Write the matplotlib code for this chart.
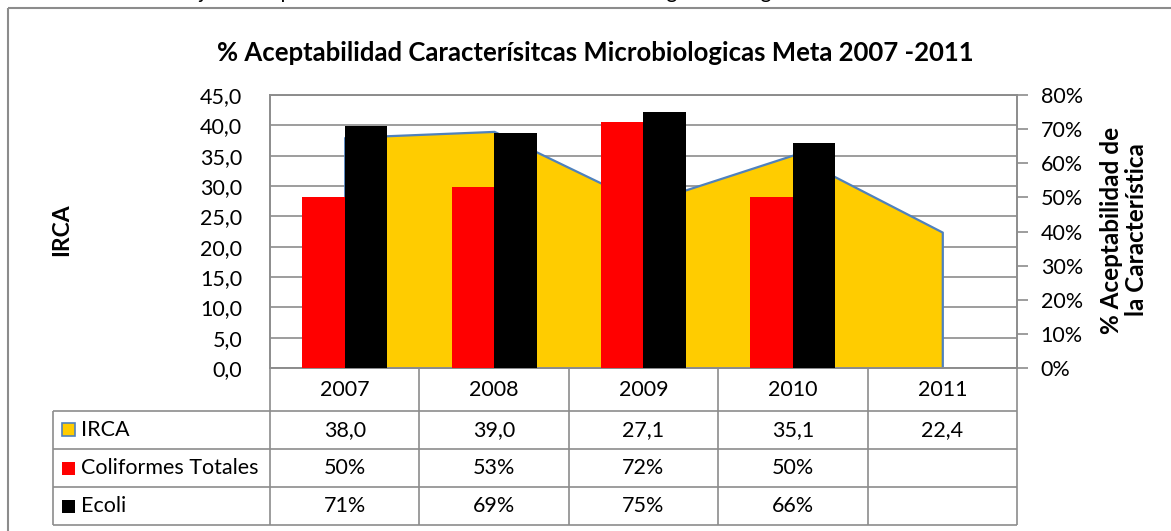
import matplotlib
matplotlib.use("Agg")
import matplotlib.pyplot as plt
from matplotlib.patches import Rectangle
import numpy as np

# ---- data -------------------------------------------------------------
years = ["2007", "2008", "2009", "2010", "2011"]
irca = [38.0, 39.0, 27.1, 35.1, 22.4]
coliformes = [0.50, 0.53, 0.72, 0.50, np.nan]
ecoli = [0.71, 0.69, 0.75, 0.66, np.nan]
irca_ticks = [0, 5, 10, 15, 20, 25, 30, 35, 40, 45]
pct_ticks = [0.0, 0.1, 0.2, 0.3, 0.4, 0.5, 0.6, 0.7, 0.8]

series_names = ["IRCA", "Coliformes Totales", "Ecoli"]
title = "% Aceptabilidad Caracterísitcas Microbiologicas Meta 2007 -2011"
caption = ("Gráfico 16. Porcentaje de aceptabilidad de las características "
           "microbiológicas del agua suministrada en el Meta 2007 - 2011")

# ---- style ------------------------------------------------------------
YELLOW = "#FFCC00"
RED = "#FF0000"
BLACK = "#000000"
BLUE = "#4F81BD"
GRID = "#8C8C8C"
FS = 15.5

plt.rcParams["font.family"] = ["Lato", "DejaVu Sans"]

W, H = 1171, 531
fig = plt.figure(figsize=(W / 100, H / 100), dpi=100)

# plot area in pixel coordinates
L, R, T, B = 270, 1017, 95, 368
ax = fig.add_axes([L / W, 1 - B / H, (R - L) / W, (B - T) / H])
ax2 = ax.twinx()

x = np.arange(len(years))
ax.set_xlim(-0.5, len(years) - 0.5)
ax.set_ylim(0, 45)
ax2.set_ylim(0, 0.8)

# IRCA area (primary axis)
ax.fill_between(x, irca, 0, facecolor=YELLOW, edgecolor=BLUE, linewidth=1.6, zorder=2)
ax.set_axisbelow(True)
ax.yaxis.grid(True, color=GRID, linewidth=1.2)
ax.set_yticks(irca_ticks)
ax.set_yticklabels([f"{v:.1f}".replace(".", ",") for v in irca_ticks], fontsize=FS)
ax.tick_params(axis="y", length=0, pad=20)
ax.set_xticks([])

# acceptability bars (secondary axis)
bw = 0.285
col = np.array(coliformes, dtype=float)
eco = np.array(ecoli, dtype=float)
m1 = ~np.isnan(col)
m2 = ~np.isnan(eco)
ax2.bar(x[m1] - bw / 2, col[m1], width=bw, color=RED, zorder=3)
ax2.bar(x[m2] + bw / 2, eco[m2], width=bw, color=BLACK, zorder=3)
ax2.set_yticks(pct_ticks)
ax2.set_yticklabels([f"{round(v * 100):d}%" for v in pct_ticks], fontsize=FS)
ax2.tick_params(axis="y", length=8, width=1.2, color=GRID, direction="out", pad=9)

for a in (ax, ax2):
    for s in a.spines.values():
        s.set_color(GRID)
        s.set_linewidth(1.2)

# titles and axis labels
fig.text(595 / W, 1 - 53 / H, title, fontsize=18.5, fontweight="bold",
         ha="center", va="center")
fig.text(62 / W, 1 - 230 / H, "IRCA", fontsize=16.5, fontweight="bold",
         rotation=90, ha="center", va="center")
fig.text(1124 / W, 1 - 230 / H, "% Aceptabilidad de\nla Característica",
         fontsize=17.5, fontweight="bold", rotation=90, ha="center", va="center",
         multialignment="center", linespacing=1.15)

# ---- overlay in pixel coordinates: frame and data table ---------------
ov = fig.add_axes([0, 0, 1, 1], zorder=-1)
ov.set_xlim(0, W)
ov.set_ylim(H, 0)
ov.axis("off")

ov.add_patch(Rectangle((8, 8), W + 20, H + 20, facecolor="none",
                       edgecolor=GRID, linewidth=1.5, clip_on=False))
# caption of the figure, sitting just above the frame (mostly above the page edge)
ov.text(10, -1.5, caption, fontsize=15, ha="left", va="baseline")

fig.canvas.draw()


def px_of(xd):
    return ax.transData.transform((xd, 0))[0]


bounds = [px_of(v - 0.5) for v in range(len(years) + 1)]
centers = [px_of(v) for v in x]

rows = [410.7, 449.0, 487.3, 525.0]
header_top = B
leg_left = 53

lkw = dict(color=GRID, linewidth=1.2, solid_capstyle="butt")
for bx in bounds:
    ov.plot([bx, bx], [header_top, rows[-1]], **lkw)
ov.plot([leg_left, leg_left], [rows[0], rows[-1]], **lkw)
for ry in rows:
    ov.plot([leg_left, bounds[-1]], [ry, ry], **lkw)

for cx, yr in zip(centers, years):
    ov.text(cx, (header_top + rows[0]) / 2 + 1, yr, fontsize=FS, ha="center", va="center")

row_vals = [
    ["" if np.isnan(v) else f"{v:.1f}".replace(".", ",") for v in np.array(irca, float)],
    ["" if np.isnan(v) else f"{round(v * 100):d}%" for v in col],
    ["" if np.isnan(v) else f"{round(v * 100):d}%" for v in eco],
]
key_style = [
    dict(facecolor=YELLOW, edgecolor=BLUE, linewidth=1.2),
    dict(facecolor=RED, edgecolor="none"),
    dict(facecolor=BLACK, edgecolor="none"),
]
for i, name in enumerate(series_names):
    cy = (rows[i] + rows[i + 1]) / 2
    ov.add_patch(Rectangle((62, cy - 6.5), 13, 13, **key_style[i]))
    ov.text(81, cy, name, fontsize=FS, ha="left", va="center")
    for cx, txt in zip(centers, row_vals[i]):
        ov.text(cx, cy, txt, fontsize=FS, ha="center", va="center")

fig.savefig("out.png", dpi=100)
